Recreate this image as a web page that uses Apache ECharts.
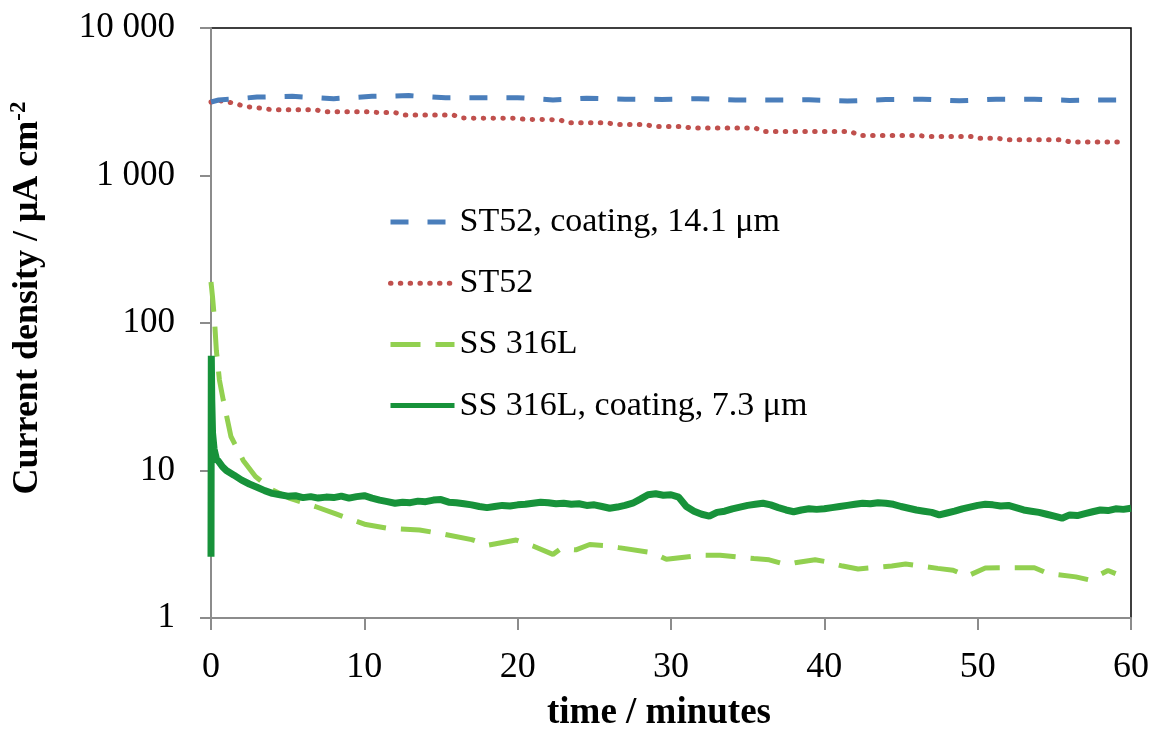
<!DOCTYPE html>
<html>
<head>
<meta charset="utf-8">
<script src="https://cdn.jsdelivr.net/npm/echarts@6/dist/echarts.min.js"></script>
<style>html,body{margin:0;padding:0;background:#fff}#c{width:1156px;height:729px}</style>
</head>
<body>
<div id="c"></div>
<script>
// ---- data (time in minutes, current density in µA cm-2) ----
const seriesNames = ['ST52, coating, 14.1 μm', 'ST52', 'SS 316L', 'SS 316L, coating, 7.3 μm'];
const xTicks = [0, 10, 20, 30, 40, 50, 60];
const yTicks = [1, 10, 100, 1000, 10000];

const st52CoatT = [0, 0.5, 1.5, 3, 5.3, 8, 10.5, 12.9, 15.3, 17.7, 20, 22.3, 24.5, 27, 29.4, 31.8, 34.2, 36.6, 39, 41.5, 44, 46.4, 48.8, 51.2, 53.7, 56, 58.5, 59.5];
const st52CoatV = [3150, 3250, 3300, 3400, 3440, 3320, 3440, 3480, 3370, 3370, 3370, 3250, 3340, 3290, 3280, 3320, 3250, 3250, 3260, 3200, 3270, 3290, 3210, 3290, 3290, 3230, 3250, 3250];

const st52T = [0, 0.4, 1, 1.6, 2.2, 3, 4, 6.8, 7.4, 10, 11, 12, 12.6, 15.8, 16.4, 20, 20.5, 22.7, 23.3, 25.8, 26.4, 28.3, 28.9, 30.7, 31.3, 35.5, 36, 41.7, 42.3, 46.1, 46.7, 49.6, 50, 51.3, 51.8, 55.5, 56, 59.2, 59.7];
const st52V = [3150, 3230, 3170, 3070, 2940, 2880, 2790, 2790, 2710, 2710, 2670, 2670, 2570, 2570, 2450, 2440, 2400, 2390, 2280, 2280, 2220, 2220, 2150, 2150, 2100, 2100, 1990, 1990, 1870, 1870, 1840, 1840, 1790, 1790, 1750, 1750, 1690, 1690, 1730];

const ss316T = [0, 0.1, 0.23, 0.35, 0.55, 0.8, 1.3, 2.1, 2.9, 4, 5.1, 6.8, 8.1, 10.1, 11.6, 13.6, 14.9, 17, 18.1, 19.9, 21, 22.3, 22.8, 23.8, 24.7, 25.7, 26.6, 28.8, 29.7, 32, 33.2, 35.4, 36.4, 37.5, 38.2, 39.4, 40, 41.2, 42.2, 44.4, 45.3, 47.4, 48.4, 49.3, 50.5, 51.4, 53.7, 54.6, 56.4, 57.3, 58.5, 59];
const ss316V = [190, 150, 104, 65, 41, 30, 17, 11.7, 9.1, 7.4, 6.5, 5.7, 5.1, 4.3, 4.05, 3.95, 3.75, 3.4, 3.12, 3.38, 3.08, 2.7, 2.95, 2.9, 3.15, 3.1, 3.0, 2.77, 2.5, 2.67, 2.66, 2.53, 2.48, 2.3, 2.38, 2.48, 2.42, 2.25, 2.15, 2.25, 2.32, 2.17, 2.11, 1.92, 2.18, 2.19, 2.19, 2.0, 1.9, 1.81, 2.1, 2.0];

const ss316CoatT = [0, 0.02, 0.05, 0.1, 0.2, 0.35, 0.5, 0.75, 1, 1.5, 2, 2.5, 3, 3.5, 4, 4.5, 5, 5.5, 6, 6.5, 7, 7.5, 8, 8.5, 9, 9.5, 10, 10.5, 11, 11.5, 12, 12.5, 13, 13.5, 14, 14.5, 15, 15.5, 16, 16.5, 17, 17.5, 18, 18.5, 19, 19.5, 20, 20.5, 21, 21.5, 22, 22.5, 23, 23.5, 24, 24.5, 25, 25.5, 26, 26.5, 27, 27.5, 28, 28.5, 29, 29.5, 30, 30.5, 31, 31.5, 32, 32.5, 33, 33.5, 34, 34.5, 35, 35.5, 36, 36.5, 37, 37.5, 38, 38.5, 39, 39.5, 40, 40.5, 41, 41.5, 42, 42.5, 43, 43.5, 44, 44.5, 45, 45.5, 46, 46.5, 47, 47.5, 48, 48.5, 49, 49.5, 50, 50.5, 51, 51.5, 52, 52.5, 53, 53.5, 54, 54.5, 55, 55.5, 56, 56.5, 57, 57.5, 58, 58.5, 59, 59.5, 60];
const ss316CoatV = [2.6, 60, 30, 18, 14, 12, 11.5, 10.6, 10, 9.3, 8.6, 8.1, 7.7, 7.3, 7.0, 6.85, 6.7, 6.75, 6.55, 6.65, 6.5, 6.6, 6.55, 6.7, 6.5, 6.65, 6.75, 6.5, 6.3, 6.15, 6.0, 6.1, 6.05, 6.2, 6.15, 6.3, 6.35, 6.1, 6.05, 5.95, 5.85, 5.7, 5.6, 5.7, 5.8, 5.75, 5.85, 5.9, 6.0, 6.1, 6.05, 5.95, 6.0, 5.9, 5.95, 5.8, 5.85, 5.7, 5.55, 5.65, 5.8, 6.0, 6.4, 6.85, 6.95, 6.8, 6.85, 6.6, 5.7, 5.3, 5.05, 4.9, 5.2, 5.3, 5.5, 5.65, 5.8, 5.9, 6.0, 5.85, 5.6, 5.4, 5.25, 5.4, 5.5, 5.45, 5.5, 5.6, 5.7, 5.8, 5.9, 6.0, 5.95, 6.05, 6.0, 5.9, 5.7, 5.55, 5.4, 5.3, 5.2, 5.0, 5.15, 5.3, 5.5, 5.65, 5.8, 5.9, 5.85, 5.75, 5.8, 5.6, 5.4, 5.3, 5.2, 5.05, 4.9, 4.75, 5.0, 4.95, 5.1, 5.25, 5.4, 5.35, 5.5, 5.45, 5.55];

function pairs(t, v) { return t.map((x, i) => [x, v[i]]); }

const serif = '"Liberation Serif", "Times New Roman", serif';
const chart = echarts.init(document.getElementById('c'), null, { renderer: 'canvas' });

chart.setOption({
  backgroundColor: '#fff',
  animation: false,
  grid: { left: 211, right: 25, top: 28, bottom: 111, containLabel: false, outerBoundsMode: 'none',
    show: true, borderColor: '#000', borderWidth: 1.5, backgroundColor: 'transparent' },
  legend: {
    data: seriesNames,
    orient: 'vertical',
    left: 383,
    top: 200,
    itemWidth: 64,
    itemHeight: 14,
    itemGap: 27.2,
    itemStyle: { color: 'transparent', borderWidth: 0, opacity: 0 },
    lineStyle: { width: 5 },
    textStyle: { fontFamily: serif, fontSize: 34, color: '#000', lineHeight: 34 }
  },
  xAxis: {
    type: 'value', min: 0, max: 60, interval: 10,
    name: 'time / minutes', nameLocation: 'middle', nameGap: 77,
    nameTextStyle: { fontFamily: serif, fontSize: 37, fontWeight: 'bold', color: '#000', padding: [0, 24, 0, 0] },
    axisLine: { show: true, lineStyle: { color: '#8c8c8c', width: 2 } },
    axisTick: { show: true, inside: false, length: 12, lineStyle: { color: '#8c8c8c', width: 2 } },
    axisLabel: { fontFamily: serif, fontSize: 36, color: '#000', margin: 32, formatter: v => xTicks.includes(v) ? String(v) : '' },
    splitLine: { show: false }
  },
  yAxis: {
    type: 'log', logBase: 10, min: 1, max: 10000,
    name: 'Current density / μA cm{sup|-2}', nameLocation: 'middle', nameGap: 164,
    nameTextStyle: {
      fontFamily: serif, fontSize: 36, fontWeight: 'bold', color: '#000', padding: [0, 0, 0, 50],
      rich: { sup: { fontFamily: serif, fontSize: 23, fontWeight: 'bold', color: '#000', verticalAlign: 'top', padding: [0, 0, 16, 0] } }
    },
    axisLine: { show: true, lineStyle: { color: '#8c8c8c', width: 2 } },
    axisTick: { show: true, inside: false, length: 11, lineStyle: { color: '#8c8c8c', width: 2 } },
    minorTick: { show: false },
    axisLabel: {
      fontFamily: serif, fontSize: 35, color: '#000', margin: 36,
      formatter: v => {
        const r = yTicks.find(t => Math.abs(t - v) / t < 1e-6);
        if (r === undefined) return '';
        return String(r).replace(/\B(?=(\d{3})+(?!\d))/g, ' ');
      }
    },
    splitLine: { show: false }
  },
  series: [
    { name: seriesNames[0], type: 'line', data: pairs(st52CoatT, st52CoatV), showSymbol: false, symbol: 'none', smooth: false,
      lineStyle: { color: '#4a7ebb', width: 5, type: [18, 19] }, itemStyle: { color: '#4a7ebb' }, z: 3 },
    { name: seriesNames[1], type: 'line', data: pairs(st52T, st52V), showSymbol: false, symbol: 'none',
      lineStyle: { color: '#c0504d', width: 5, type: [0.5, 9.3], cap: 'round' }, itemStyle: { color: '#c0504d' }, z: 2 },
    { name: seriesNames[2], type: 'line', data: pairs(ss316T, ss316V), showSymbol: false, symbol: 'none',
      lineStyle: { color: '#92d050', width: 5, type: [30, 15] }, itemStyle: { color: '#92d050' }, z: 2 },
    { name: seriesNames[3], type: 'line', data: pairs(ss316CoatT, ss316CoatV), showSymbol: false, symbol: 'none',
      lineStyle: { color: '#17923a', width: 7, type: 'solid' }, itemStyle: { color: '#17923a' }, z: 4 }
  ]
});
</script>
</body>
</html>
